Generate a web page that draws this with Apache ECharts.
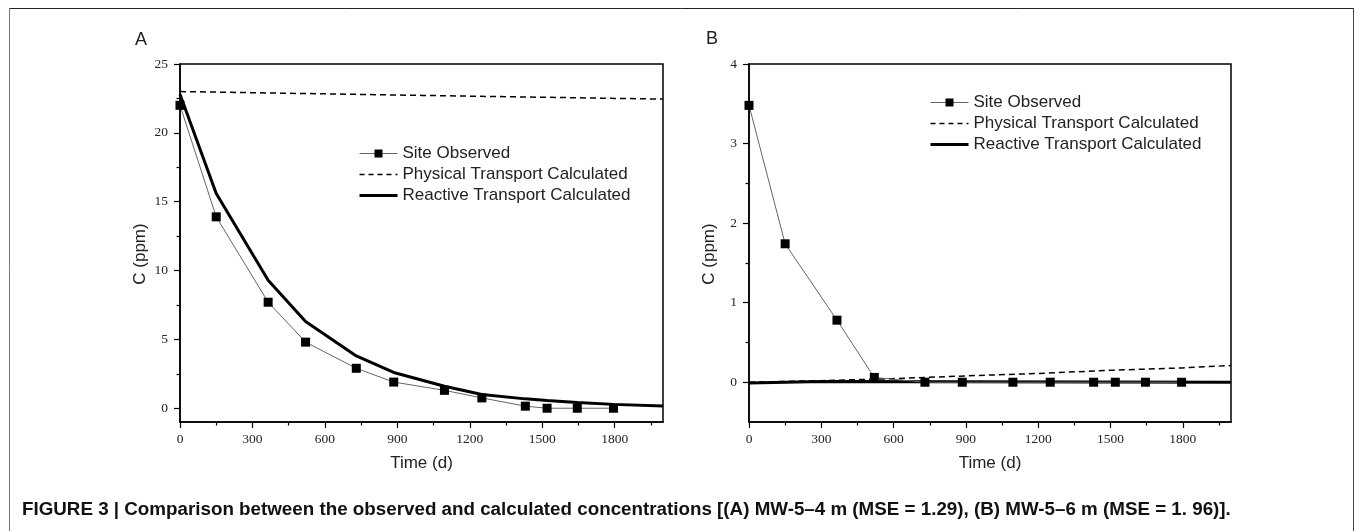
<!DOCTYPE html>
<html>
<head>
<meta charset="utf-8">
<script src="https://cdn.jsdelivr.net/npm/echarts@6/dist/echarts.min.js"></script>
<style>
html,body{margin:0;padding:0;background:#fff;}
#chart{width:1355px;height:531px;}
</style>
</head>
<body>
<div id="chart"></div>
<script>
// ---- Data ----
const seriesNames = ['Site Observed', 'Physical Transport Calculated', 'Reactive Transport Calculated'];

// Panel A: MW-5-4 m
const timeObsA = [0, 150, 365, 520, 730, 885, 1095, 1250, 1430, 1520, 1645, 1795];
const obsA = [22.0, 13.9, 7.7, 4.8, 2.9, 1.9, 1.3, 0.75, 0.15, 0, 0, 0];
const timePhysA = [0, 1000, 2000];
const physA = [23.0, 22.72, 22.45];
const timeReactA = [0, 150, 365, 520, 730, 885, 1095, 1250, 1430, 1520, 1645, 1795, 2000];
const reactA = [22.8, 15.6, 9.3, 6.3, 3.8, 2.6, 1.6, 1.0, 0.68, 0.57, 0.42, 0.28, 0.16];

// Panel B: MW-5-6 m
const timeObsB = [0, 150, 365, 520, 730, 885, 1095, 1250, 1430, 1520, 1645, 1795];
const obsB = [3.48, 1.74, 0.78, 0.06, 0, 0, 0, 0, 0, 0, 0, 0];
const timePhysB = [0, 300, 600, 900, 1200, 1500, 1800, 2000];
const physB = [0, 0.02, 0.045, 0.08, 0.11, 0.15, 0.18, 0.21];
const timeReactB = [0, 300, 2000];
const reactB = [-0.01, 0.01, 0];

// Tick labels
const xTicks = [0, 300, 600, 900, 1200, 1500, 1800];
const xMinorTicks = [150, 450, 750, 1050, 1350, 1650, 1950];
const yTicksA = [0, 5, 10, 15, 20, 25];
const yMinorA = [2.5, 7.5, 12.5, 17.5, 22.5];
const yTicksB = [0, 1, 2, 3, 4];
const yMinorB = [0.5, 1.5, 2.5, 3.5];

const panelLabels = ['A', 'B'];
const xName = 'Time (d)';
const yName = 'C (ppm)';
const caption = 'FIGURE 3 | Comparison between the observed and calculated concentrations [(A) MW-5\u20134 m (MSE = 1.29), (B) MW-5\u20136 m (MSE = 1. 96)].';

// ---- Helpers ----
const pairs = (xs, ys) => xs.map((x, i) => [x, ys[i]]);
const SERIF = '"Liberation Serif", "DejaVu Serif", serif';
const SANS = '"Liberation Sans", Arial, sans-serif';
const plain = v => String(v);

function mainX(gridIndex) {
  return {
    type: 'value', gridIndex, min: 0, max: 2000, interval: 300, position: 'bottom',
    name: xName, nameLocation: 'middle', nameGap: 33,
    nameTextStyle: { fontFamily: SANS, fontSize: 17, color: '#222' },
    axisLine: { show: true, onZero: false, lineStyle: { color: '#000', width: 1.5 } },
    axisTick: { show: true, inside: false, length: 6, customValues: xTicks, lineStyle: { color: '#000', width: 1.2 } },
    axisLabel: { show: true, customValues: xTicks, formatter: plain, margin: 10, fontFamily: SERIF, fontSize: 13.5, color: '#222' },
    splitLine: { show: false }
  };
}
function minorX(gridIndex) {
  return {
    type: 'value', gridIndex, min: 0, max: 2000, interval: 300, position: 'bottom',
    axisLine: { show: false, onZero: false },
    axisTick: { show: true, inside: false, length: 3.5, customValues: xMinorTicks, lineStyle: { color: '#000', width: 1.2 } },
    axisLabel: { show: false },
    splitLine: { show: false }
  };
}
function mainY(gridIndex, min, max, ticks) {
  return {
    type: 'value', gridIndex, min, max, position: 'left',
    name: yName, nameLocation: 'middle', nameGap: 31,
    nameTextStyle: { fontFamily: SANS, fontSize: 17, color: '#222', padding: [0, 22, 0, 0] },
    axisLine: { show: true, onZero: false, lineStyle: { color: '#000', width: 1.5 } },
    axisTick: { show: true, inside: false, length: 6, customValues: ticks, lineStyle: { color: '#000', width: 1.2 } },
    axisLabel: { show: true, customValues: ticks, formatter: plain, margin: 12, fontFamily: SERIF, fontSize: 13.5, color: '#222' },
    splitLine: { show: false }
  };
}
function minorY(gridIndex, min, max, ticks) {
  return {
    type: 'value', gridIndex, min, max, position: 'left',
    axisLine: { show: false, onZero: false },
    axisTick: { show: true, inside: false, length: 3.5, customValues: ticks, lineStyle: { color: '#000', width: 1.2 } },
    axisLabel: { show: false },
    splitLine: { show: false }
  };
}
function panelSeries(axisIdx, tObs, vObs, tPhys, vPhys, tReact, vReact) {
  return [
    {
      name: seriesNames[1], type: 'line', xAxisIndex: axisIdx, yAxisIndex: axisIdx,
      data: pairs(tPhys, vPhys), symbol: 'none', silent: true,
      lineStyle: { color: '#000', width: 1.5, type: [6, 4] }, itemStyle: { color: '#000', opacity: 0 }, z: 2
    },
    {
      name: seriesNames[2], type: 'line', xAxisIndex: axisIdx, yAxisIndex: axisIdx,
      data: pairs(tReact, vReact), symbol: 'none', silent: true,
      lineStyle: { color: '#000', width: 3 }, itemStyle: { color: '#000', opacity: 0 }, z: 3
    },
    {
      name: seriesNames[0], type: 'line', xAxisIndex: axisIdx, yAxisIndex: axisIdx,
      data: pairs(tObs, vObs), symbol: 'rect', symbolSize: 9, silent: true,
      lineStyle: { color: '#666', width: 1 }, itemStyle: { color: '#000' }, z: 4
    }
  ];
}

const chart = echarts.init(document.getElementById('chart'), null, { renderer: 'canvas' });

const legendData = [
  { name: seriesNames[0], lineStyle: { width: 1, color: '#666' } },
  { name: seriesNames[1], itemStyle: { opacity: 0 }, lineStyle: { width: 1.5, color: '#000', type: [5, 4] } },
  { name: seriesNames[2], itemStyle: { opacity: 0 }, lineStyle: { width: 3, color: '#000' } }
];
const legendCommon = {
  orient: 'vertical', data: legendData, itemWidth: 38, itemHeight: 10, itemGap: 4,
  textStyle: { fontFamily: SANS, fontSize: 17, color: '#222' }, selectedMode: false, padding: 0
};

const option = {
  backgroundColor: '#fff',
  animation: false,
  title: [
    { text: panelLabels[0], left: 135, top: 31, padding: 0, textStyle: { fontFamily: SANS, fontSize: 18, fontWeight: 'normal', color: '#222' } },
    { text: panelLabels[1], left: 706, top: 30, padding: 0, textStyle: { fontFamily: SANS, fontSize: 18, fontWeight: 'normal', color: '#222' } },
    { text: caption, left: 22, top: 500, padding: 0, textStyle: { fontFamily: SANS, fontSize: 18.8, fontWeight: 'bold', color: '#111' } }
  ],
  grid: [
    { left: 180, top: 64, width: 483, height: 358, show: true, borderColor: '#000', borderWidth: 1.5, backgroundColor: 'transparent' },
    { left: 749, top: 64, width: 482, height: 358, show: true, borderColor: '#000', borderWidth: 1.5, backgroundColor: 'transparent' }
  ],
  xAxis: [mainX(0), mainX(1), minorX(0), minorX(1)],
  yAxis: [mainY(0, -1, 25, yTicksA), mainY(1, -0.5, 4, yTicksB), minorY(0, -1, 25, yMinorA), minorY(1, -0.5, 4, yMinorB)],
  legend: [
    Object.assign({ left: 358, top: 145 }, legendCommon),
    Object.assign({ left: 929, top: 94 }, legendCommon)
  ],
  series: [].concat(
    panelSeries(0, timeObsA, obsA, timePhysA, physA, timeReactA, reactA),
    panelSeries(1, timeObsB, obsB, timePhysB, physB, timeReactB, reactB)
  ),
  graphic: [
    { type: 'line', silent: true, shape: { x1: 9, y1: 8.5, x2: 1354, y2: 8.5 }, style: { stroke: '#222', lineWidth: 1 } },
    { type: 'line', silent: true, shape: { x1: 9.5, y1: 8, x2: 9.5, y2: 531 }, style: { stroke: '#777', lineWidth: 1 } },
    { type: 'line', silent: true, shape: { x1: 1353.5, y1: 8, x2: 1353.5, y2: 531 }, style: { stroke: '#444', lineWidth: 1 } }
  ]
};
chart.setOption(option);
</script>
</body>
</html>
